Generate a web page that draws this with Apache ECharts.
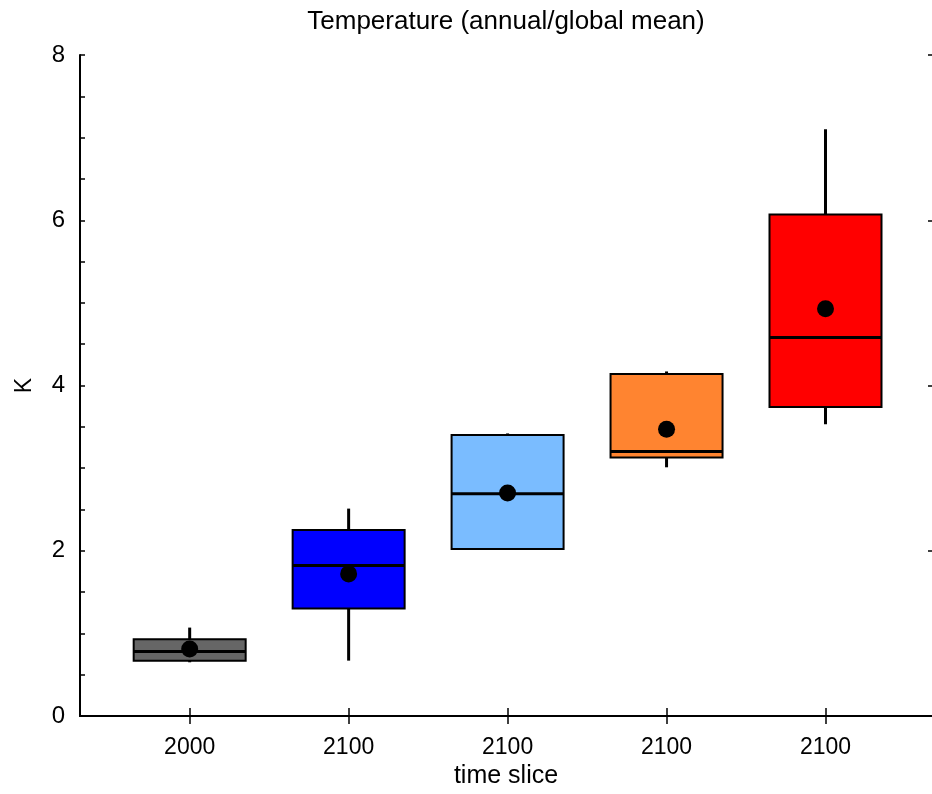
<!DOCTYPE html>
<html>
<head>
<meta charset="utf-8">
<title>Temperature (annual/global mean)</title>
<script src="https://cdn.jsdelivr.net/npm/echarts@6/dist/echarts.min.js"></script>
<style>
  html, body { margin: 0; padding: 0; background: #fff; }
  #chart { width: 932px; height: 794px; }
</style>
</head>
<body>
<div id="chart"></div>
<script>
  // box positions on the x axis and their labels
  var positions = [1, 2, 3, 4, 5];
  var tickLabels = ['2000', '2100', '2100', '2100', '2100'];

  // box statistics (K)
  var lows    = [0.65, 0.67, 2.02, 3.01, 3.53];
  var q1s     = [0.67, 1.30, 2.02, 3.13, 3.74];
  var medians = [0.78, 1.82, 2.69, 3.20, 4.58];
  var q3s     = [0.93, 2.25, 3.40, 4.14, 6.07];
  var highs   = [1.07, 2.51, 3.42, 4.17, 7.10];
  var means   = [0.81, 1.72, 2.70, 3.47, 4.93];

  var boxColors = ['#666666', '#0000ff', '#7abcff', '#ff8430', '#ff0000'];

  var boxData = positions.map(function (p, i) {
    return [p, lows[i], q1s[i], medians[i], q3s[i], highs[i]];
  });
  var meanData = positions.map(function (p, i) {
    return [p, means[i]];
  });

  var font = 'Liberation Sans';
  var black = '#000';

  var chart = echarts.init(document.getElementById('chart'));
  chart.setOption({
    animation: false,
    backgroundColor: '#fff',
    grid: { left: 80, right: 0, top: 55, bottom: 78 },
    xAxis: [
      {
        type: 'value',
        position: 'bottom',
        min: 0.31,
        max: 5.67,
        name: 'time slice',
        nameLocation: 'middle',
        nameGap: 46,
        nameTextStyle: { color: black, fontSize: 25, fontFamily: font },
        axisLine: { show: true, lineStyle: { color: black, width: 2 } },
        axisTick: { customValues: positions, inside: true, length: 8, lineStyle: { color: black, width: 1.5 } },
        axisLabel: {
          customValues: positions,
          formatter: function (v) { return tickLabels[positions.indexOf(v)]; },
          color: black, fontSize: 23, fontFamily: font, margin: 20
        },
        splitLine: { show: false }
      },
      {
        type: 'value',
        position: 'top',
        min: 0.31,
        max: 5.67,
        name: 'Temperature (annual/global mean)',
        nameLocation: 'middle',
        nameGap: 20,
        nameTextStyle: { color: black, fontSize: 26, fontFamily: font },
        axisLine: { show: true, lineStyle: { color: black, width: 2 } },
        axisTick: { customValues: positions, inside: true, length: 8, lineStyle: { color: black, width: 1.5 } },
        axisLabel: { show: false },
        splitLine: { show: false }
      }
    ],
    yAxis: [
      {
        type: 'value',
        position: 'left',
        min: 0,
        max: 8,
        interval: 2,
        name: 'K',
        nameLocation: 'middle',
        nameGap: 44,
        nameTextStyle: { color: black, fontSize: 23, fontFamily: font },
        axisLine: { show: true, lineStyle: { color: black, width: 2 } },
        axisTick: { show: true, inside: true, length: 5, lineStyle: { color: black, width: 1.5 } },
        minorTick: { show: true, splitNumber: 4, length: 5, lineStyle: { color: black, width: 1.5 } },
        axisLabel: { color: black, fontSize: 24, fontFamily: font, margin: 15 },
        splitLine: { show: false }
      },
      {
        type: 'value',
        position: 'right',
        min: 0,
        max: 8,
        interval: 2,
        axisLine: { show: false },
        axisTick: { show: true, inside: true, length: 4, lineStyle: { color: black, width: 1.5 } },
        axisLabel: { show: false },
        splitLine: { show: false }
      }
    ],
    series: [
      {
        type: 'custom',
        xAxisIndex: 0,
        yAxisIndex: 0,
        data: boxData,
        encode: { x: 0, y: [1, 2, 3, 4, 5] },
        renderItem: function (params, api) {
          var x = api.value(0);
          var pLow = api.coord([x, api.value(1)]);
          var pQ1 = api.coord([x, api.value(2)]);
          var pMed = api.coord([x, api.value(3)]);
          var pQ3 = api.coord([x, api.value(4)]);
          var pHigh = api.coord([x, api.value(5)]);
          var cx = pMed[0];
          var half = 56;
          return {
            type: 'group',
            children: [
              {
                type: 'line',
                shape: { x1: cx, y1: pLow[1], x2: cx, y2: pHigh[1] },
                style: { stroke: black, lineWidth: 3 }
              },
              {
                type: 'rect',
                shape: { x: cx - half, y: pQ3[1], width: half * 2, height: pQ1[1] - pQ3[1] },
                style: { fill: boxColors[params.dataIndex], stroke: black, lineWidth: 2 }
              },
              {
                type: 'line',
                shape: { x1: cx - half, y1: pMed[1], x2: cx + half, y2: pMed[1] },
                style: { stroke: black, lineWidth: 3 }
              }
            ]
          };
        }
      },
      {
        type: 'scatter',
        xAxisIndex: 0,
        yAxisIndex: 0,
        data: meanData,
        symbol: 'circle',
        symbolSize: 17,
        itemStyle: { color: black, opacity: 1 },
        z: 5
      }
    ]
  });
</script>
</body>
</html>
